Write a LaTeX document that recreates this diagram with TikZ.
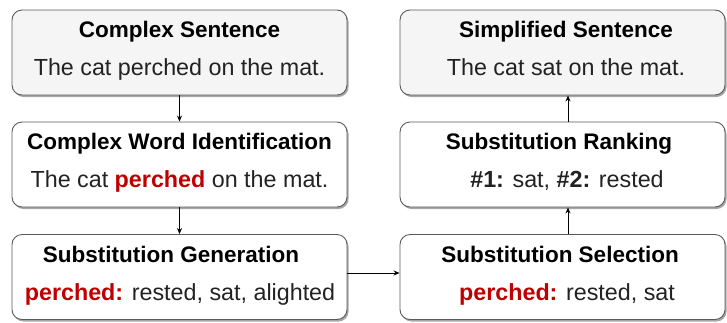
\documentclass[tikz,border=0pt]{standalone}
\usepackage{fontspec}
\setmainfont{Liberation Sans}
\usetikzlibrary{shadows,arrows.meta}
\definecolor{hl}{HTML}{C00000}
\definecolor{edge}{HTML}{5A5A5A}
\definecolor{paleFill}{HTML}{F5F5F5}
\definecolor{bodytext}{HTML}{222222}
\tikzset{
  x=1pt,y=1pt,
  stage/.style={draw=edge, line width=0.9pt, rounded corners=10pt, fill=white,
    drop shadow={shadow xshift=1.5pt, shadow yshift=-2pt, fill=black, opacity=0.35},
    minimum height=85pt, inner sep=0pt},
  ends/.style={stage, fill=paleFill},
  title/.style={font=\fontsize{22.5}{26}\selectfont\bfseries, text=black, anchor=base},
  body/.style={font=\fontsize{23.3}{27}\selectfont, text=bodytext, anchor=base},
  flow/.style={draw=black, line width=0.8pt, -{Stealth[length=6pt,width=5pt]}}
}
\newcommand{\hlw}[1]{\textcolor{hl}{\textbf{#1}}}
\begin{document}
\begin{tikzpicture}
\useasboundingbox (0,0) rectangle (727,-322);

% left column
\node[ends, minimum width=335pt] (cs) at (179.5,-52.5) {};
\node[stage, minimum width=335pt] (cwi) at (179.5,-164.5) {};
\node[stage, minimum width=335pt] (sg) at (179.5,-277) {};
% right column
\node[ends, minimum width=325pt] (ss) at (562.5,-52.5) {};
\node[stage, minimum width=325pt] (sr) at (562.5,-164.5) {};
\node[stage, minimum width=325pt] (sel) at (562.5,-277) {};

% texts
\node[title] (csT) at (179.5,-37) {Complex Sentence};
\node[body] (csB) at (179.5,-75) {The cat perched on the mat.};
\node[title] (cwiT) at (179.5,-149) {Complex Word Identification};
\node[body] (cwiB) at (179.5,-187) {The cat \hlw{perched} on the mat.};
\node[title] (sgT) at (171,-262) {Substitution Generation};
\node[body] (sgB) at (180,-300) {\hlw{perched:} rested, sat, alighted};

\node[title] (ssT) at (566,-37) {Simplified Sentence};
\node[body] (ssB) at (566,-75) {The cat sat on the mat.};
\node[title] (srT) at (559,-149) {Substitution Ranking};
\node[body] (srB) at (567,-187) {\textbf{\#1:} sat, \textbf{\#2:} rested};
\node[title] (selT) at (560,-262) {Substitution Selection};
\node[body] (selB) at (567,-300) {\hlw{perched:} rested, sat};

% connectors
\draw[flow] (cs.south) -- (cwi.north);
\draw[flow] (cwi.south) -- (sg.north);
\draw[flow] (sg.east |- 0,-273) -- (sel.west |- 0,-273);
\draw[flow] ([xshift=5.5pt]sel.north) -- ([xshift=5.5pt]sr.south);
\draw[flow] ([xshift=5.5pt]sr.north) -- ([xshift=5.5pt]ss.south);
\end{tikzpicture}
\end{document}
